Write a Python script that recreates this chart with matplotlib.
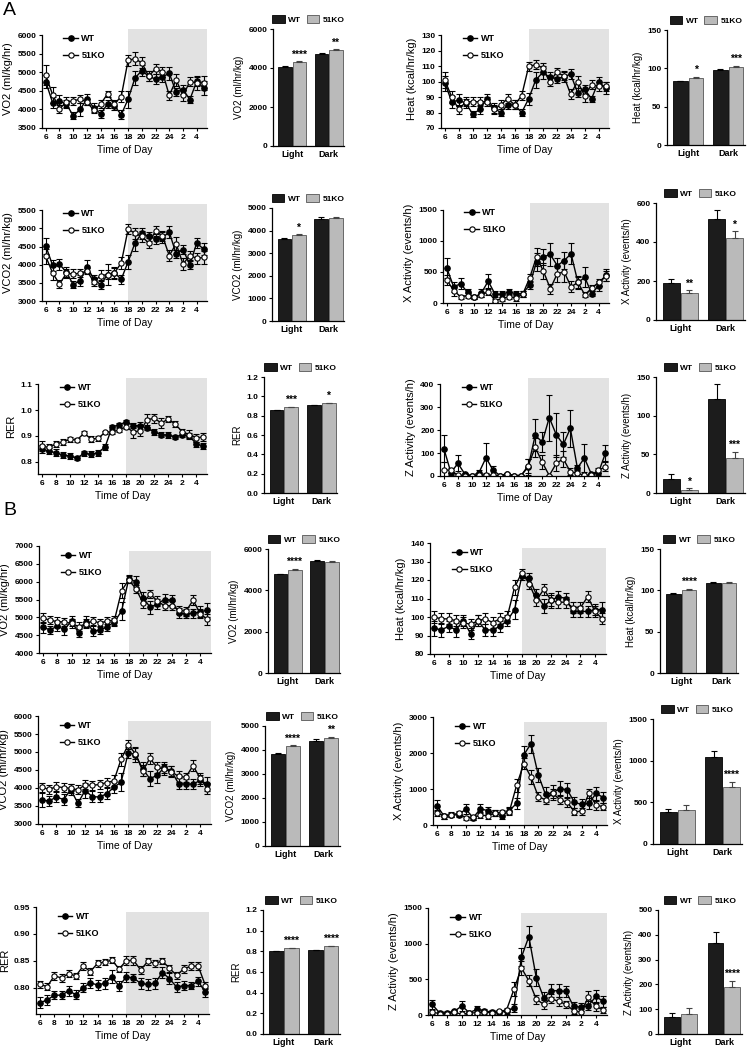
import numpy as np
import matplotlib.pyplot as plt

plt.rcParams['font.family'] = ['Liberation Sans', 'DejaVu Sans']
plt.rcParams['font.weight'] = 'bold'

hours = list(range(6, 30))
hour_ticks = [6, 8, 10, 12, 14, 16, 18, 20, 22, 24, 26, 28]
hour_labels = ['6', '8', '10', '12', '14', '16', '18', '20', '22', '24', '2', '4']
groups = ['Light', 'Dark']

# ---------------- panel A ----------------
a_vo2_wt = [4750, 4180, 4220, 4150, 3830, 4000, 4280, 4050, 3880, 4150, 4100, 3860,
            4280, 4850, 5050, 4900, 4820, 4880, 4980, 4470, 4540, 4270, 4760, 4580]
a_vo2_wt_err = [180, 150, 180, 120, 90, 170, 150, 120, 100, 120, 120, 120,
                230, 200, 150, 130, 130, 130, 170, 110, 130, 90, 130, 180]
a_vo2_ko = [4920, 4400, 4020, 4200, 4230, 4280, 4200, 3980, 4150, 4420, 4150, 4350,
            5330, 5370, 5260, 4900, 5100, 5020, 4380, 4800, 4380, 4750, 4720, 4720]
a_vo2_ko_err = [270, 220, 110, 130, 100, 110, 80, 80, 100, 90, 120, 160,
                150, 180, 150, 130, 140, 140, 110, 160, 150, 120, 180, 190]

a_heat_wt = [99, 87, 88, 86, 79, 82, 89, 83, 80, 85, 85, 80,
             89, 101, 106, 103, 102, 103, 105, 93, 95, 89, 100, 96]
a_heat_wt_err = [5, 4, 4, 3, 2, 3, 3, 3, 2, 3, 3, 2, 4, 5, 4, 3, 3, 3, 3, 3, 3, 2, 3, 4]
a_heat_ko = [101, 90, 82, 87, 87, 87, 87, 82, 85, 89, 85, 91,
             110, 111, 109, 100, 106, 104, 92, 100, 91, 98, 97, 97]
a_heat_ko_err = [5, 4, 3, 3, 3, 3, 3, 3, 3, 3, 3, 3, 3, 3, 3, 3, 3, 3, 3, 4, 4, 3, 3, 3]

a_vco2_wt = [4520, 3980, 4010, 3800, 3450, 3560, 3950, 3600, 3450, 3730, 3780, 3600,
             4080, 4600, 4870, 4780, 4720, 4750, 4900, 4300, 4420, 4000, 4600, 4430]
a_vco2_wt_err = [220, 150, 160, 140, 100, 160, 190, 120, 120, 120, 150, 130,
                 200, 220, 150, 130, 140, 150, 160, 120, 120, 120, 150, 160]
a_vco2_ko = [4230, 3770, 3470, 3760, 3750, 3760, 3830, 3530, 3700, 3730, 3770, 4050,
             4980, 4870, 4780, 4600, 4930, 4800, 4250, 4580, 4020, 4250, 4180, 4200]
a_vco2_ko_err = [200, 200, 120, 130, 120, 110, 90, 110, 150, 280, 150, 160,
                 130, 150, 140, 140, 150, 140, 150, 180, 170, 140, 150, 180]

a_x_wt = [560, 260, 310, 170, 90, 160, 350, 140, 140, 180, 150, 150,
          290, 660, 740, 780, 600, 680, 790, 330, 410, 150, 280, 450]
a_x_wt_err = [160, 80, 90, 60, 30, 60, 110, 50, 50, 50, 50, 50,
              70, 150, 130, 180, 130, 140, 170, 90, 160, 40, 80, 90]
a_x_ko = [370, 200, 100, 120, 100, 130, 180, 40, 70, 100, 80, 140,
          400, 740, 510, 230, 470, 500, 260, 330, 130, 240, 330, 430]
a_x_ko_err = [80, 80, 30, 40, 30, 40, 50, 30, 30, 40, 40, 50,
              60, 150, 130, 80, 130, 170, 90, 110, 40, 50, 60, 80]

a_rer_wt = [0.850, 0.840, 0.835, 0.825, 0.822, 0.813, 0.833, 0.828, 0.835, 0.857, 0.935, 0.942,
            0.955, 0.940, 0.940, 0.930, 0.915, 0.905, 0.903, 0.895, 0.905, 0.900, 0.867, 0.862]
a_rer_wt_err = [0.015, 0.012, 0.015, 0.012, 0.010, 0.007, 0.010, 0.012, 0.012, 0.012, 0.008, 0.007,
                0.006, 0.010, 0.012, 0.006, 0.010, 0.010, 0.010, 0.008, 0.010, 0.010, 0.010, 0.012]
a_rer_ko = [0.860, 0.855, 0.868, 0.877, 0.886, 0.884, 0.910, 0.888, 0.890, 0.914, 0.915, 0.923,
            0.935, 0.915, 0.920, 0.963, 0.968, 0.950, 0.965, 0.945, 0.915, 0.905, 0.893, 0.895]
a_rer_ko_err = [0.020, 0.015, 0.012, 0.012, 0.008, 0.006, 0.008, 0.010, 0.010, 0.006, 0.008, 0.008,
                0.010, 0.025, 0.020, 0.020, 0.018, 0.020, 0.012, 0.012, 0.012, 0.018, 0.015, 0.015]

a_z_wt = [120, 15, 55, 8, 2, 15, 80, 25, 2, 8, 2, 2,
          40, 178, 148, 255, 180, 138, 208, 35, 78, 8, 15, 100]
a_z_wt_err = [60, 10, 35, 5, 2, 10, 65, 20, 2, 5, 2, 2,
              35, 70, 45, 100, 95, 55, 80, 15, 60, 5, 10, 35]
a_z_ko = [27, 25, 3, 2, 2, 3, 5, 3, 2, 10, 2, 2,
          45, 125, 60, 2, 55, 75, 18, 12, 3, 5, 25, 40]
a_z_ko_err = [35, 10, 5, 2, 2, 3, 5, 3, 2, 3, 2, 2,
              30, 40, 30, 2, 35, 35, 15, 15, 3, 5, 10, 20]

# bar summaries (Light, Dark)
a_vo2_bar_wt, a_vo2_bar_wt_err = [4050, 4720], [40, 40]
a_vo2_bar_ko, a_vo2_bar_ko_err = [4320, 4920], [30, 40]
a_vo2_stars = ['****', '**']
a_heat_bar_wt, a_heat_bar_wt_err = [83, 98], [1, 1]
a_heat_bar_ko, a_heat_bar_ko_err = [88, 102], [1, 1]
a_heat_stars = ['*', '***']
a_vco2_bar_wt, a_vco2_bar_wt_err = [3650, 4530], [40, 50]
a_vco2_bar_ko, a_vco2_bar_ko_err = [3800, 4550], [40, 70]
a_vco2_stars = ['*', '']
a_x_bar_wt, a_x_bar_wt_err = [190, 520], [20, 45]
a_x_bar_ko, a_x_bar_ko_err = [140, 420], [12, 35]
a_x_stars = ['**', '*']
a_rer_bar_wt, a_rer_bar_wt_err = [0.855, 0.910], [0.005, 0.005]
a_rer_bar_ko, a_rer_bar_ko_err = [0.885, 0.928], [0.004, 0.004]
a_rer_stars = ['***', '*']
a_z_bar_wt, a_z_bar_wt_err = [18, 121], [7, 20]
a_z_bar_ko, a_z_bar_ko_err = [4, 45], [2, 8]
a_z_stars = ['*', '***']

# ---------------- panel B ----------------
b_vo2_wt = [4720, 4650, 4750, 4660, 4900, 4550, 4880, 4620, 4640, 4740, 4870, 5180,
            6080, 6000, 5550, 5280, 5380, 5500, 5480, 5120, 5100, 5110, 5160, 5200]
b_vo2_wt_err = [150, 120, 130, 150, 130, 110, 160, 130, 120, 130, 120, 250,
                100, 150, 150, 180, 140, 150, 150, 150, 130, 130, 160, 200]
b_vo2_ko = [4980, 4920, 4880, 4870, 4830, 4740, 4820, 4900, 4840, 4900, 4920, 5750,
            6050, 5800, 5400, 5650, 5460, 5320, 5330, 5200, 5170, 5480, 5100, 4940]
b_vo2_ko_err = [130, 120, 120, 110, 120, 130, 120, 110, 120, 100, 130, 200,
                100, 120, 130, 120, 130, 120, 130, 120, 120, 140, 130, 150]

b_heat_wt = [94, 93, 95, 93, 98, 91, 98, 93, 93, 95, 98, 104,
             122, 121, 112, 106, 109, 111, 110, 103, 103, 103, 104, 104]
b_heat_wt_err = [4, 4, 3, 4, 3, 3, 3, 3, 3, 3, 3, 5, 2, 3, 3, 4, 4, 3, 3, 3, 3, 3, 3, 4]
b_heat_ko = [100, 99, 99, 98, 97, 96, 98, 99, 97, 99, 100, 116,
             124, 118, 109, 115, 109, 108, 108, 105, 105, 111, 103, 99]
b_heat_ko_err = [3, 3, 3, 3, 3, 3, 3, 3, 3, 3, 3, 4, 2, 3, 3, 3, 3, 3, 3, 3, 3, 3, 3, 3]

b_vco2_wt = [3660, 3640, 3750, 3680, 3950, 3580, 3930, 3760, 3750, 3840, 4020, 4160,
             4980, 4930, 4530, 4260, 4350, 4570, 4470, 4120, 4110, 4110, 4210, 4110]
b_vco2_wt_err = [200, 150, 150, 150, 150, 120, 200, 150, 150, 150, 150, 250,
                 150, 200, 200, 200, 200, 150, 150, 150, 150, 150, 150, 200]
b_vco2_ko = [4020, 3960, 4040, 4010, 3990, 3950, 4090, 4070, 4100, 4150, 4200, 4800,
             5200, 4950, 4480, 4820, 4580, 4520, 4450, 4320, 4300, 4620, 4270, 3980]
b_vco2_ko_err = [120, 120, 120, 120, 120, 120, 120, 120, 120, 120, 150, 180,
                 120, 150, 150, 150, 150, 150, 150, 150, 130, 150, 150, 150]

b_x_wt = [540, 240, 270, 290, 440, 200, 450, 400, 330, 250, 400, 600,
          1950, 2260, 1390, 850, 900, 1010, 980, 630, 570, 600, 880, 760]
b_x_wt_err = [150, 60, 60, 80, 130, 60, 120, 100, 80, 80, 100, 150,
              250, 250, 200, 200, 200, 200, 200, 150, 150, 150, 180, 160]
b_x_ko = [340, 240, 290, 320, 200, 210, 270, 260, 330, 350, 370, 1100,
          1700, 1330, 790, 700, 880, 700, 630, 370, 380, 880, 550, 510]
b_x_ko_err = [80, 60, 60, 80, 60, 60, 80, 80, 80, 70, 100, 180,
              150, 200, 130, 130, 130, 120, 120, 90, 90, 130, 120, 100]

b_rer_wt = [0.772, 0.777, 0.786, 0.786, 0.794, 0.787, 0.800, 0.809, 0.805, 0.808, 0.820, 0.803,
            0.820, 0.818, 0.808, 0.806, 0.808, 0.828, 0.817, 0.801, 0.804, 0.804, 0.812, 0.791]
b_rer_wt_err = [0.010, 0.009, 0.007, 0.008, 0.009, 0.008, 0.008, 0.009, 0.010, 0.010, 0.012, 0.010,
                0.010, 0.008, 0.010, 0.010, 0.010, 0.010, 0.010, 0.009, 0.008, 0.007, 0.008, 0.008]
b_rer_ko = [0.806, 0.802, 0.822, 0.818, 0.826, 0.822, 0.840, 0.830, 0.845, 0.848, 0.851, 0.835,
            0.850, 0.851, 0.833, 0.849, 0.845, 0.850, 0.836, 0.823, 0.835, 0.840, 0.840, 0.804]
b_rer_ko_err = [0.007, 0.006, 0.008, 0.007, 0.007, 0.006, 0.008, 0.007, 0.007, 0.006, 0.006, 0.005,
                0.008, 0.008, 0.007, 0.006, 0.006, 0.006, 0.007, 0.006, 0.007, 0.007, 0.007, 0.007]

b_z_wt = [150, 30, 30, 50, 130, 30, 80, 60, 40, 40, 50, 100,
          810, 1100, 520, 240, 340, 340, 330, 120, 110, 130, 260, 190]
b_z_wt_err = [60, 20, 20, 20, 70, 20, 40, 30, 30, 20, 30, 60,
              130, 150, 120, 80, 90, 90, 80, 60, 60, 60, 90, 80]
b_z_ko = [40, 20, 20, 40, 10, 30, 30, 40, 30, 50, 70, 360,
          660, 480, 220, 150, 230, 190, 150, 60, 40, 250, 120, 70]
b_z_ko_err = [30, 20, 20, 20, 20, 20, 20, 20, 20, 20, 30, 100,
              100, 80, 60, 60, 60, 60, 50, 40, 40, 90, 60, 40]

b_vo2_bar_wt, b_vo2_bar_wt_err = [4770, 5420], [40, 60]
b_vo2_bar_ko, b_vo2_bar_ko_err = [4990, 5380], [40, 40]
b_vo2_stars = ['****', '']
b_heat_bar_wt, b_heat_bar_wt_err = [96, 109], [1, 1.5]
b_heat_bar_ko, b_heat_bar_ko_err = [101, 109], [1, 1]
b_heat_stars = ['****', '']
b_vco2_bar_wt, b_vco2_bar_wt_err = [3830, 4390], [40, 50]
b_vco2_bar_ko, b_vco2_bar_ko_err = [4150, 4510], [40, 50]
b_vco2_stars = ['****', '**']
b_x_bar_wt, b_x_bar_wt_err = [380, 1040], [35, 80]
b_x_bar_ko, b_x_bar_ko_err = [410, 690], [55, 60]
b_x_stars = ['', '****']
b_rer_bar_wt, b_rer_bar_wt_err = [0.800, 0.810], [0.003, 0.003]
b_rer_bar_ko, b_rer_bar_ko_err = [0.830, 0.850], [0.004, 0.004]
b_rer_stars = ['****', '****']
b_z_bar_wt, b_z_bar_wt_err = [70, 365], [15, 45]
b_z_bar_ko, b_z_bar_ko_err = [80, 190], [25, 25]
b_z_stars = ['', '****']

W, H = 749, 1049
fig = plt.figure(figsize=(W / 100, H / 100), dpi=100)
SHADE = '#e2e2e2'


def px(x0, y0, x1, y1):
    return fig.add_axes([x0 / W, 1 - y1 / H, (x1 - x0) / W, (y1 - y0) / H])


def style(ax):
    ax.spines['top'].set_visible(False)
    ax.spines['right'].set_visible(False)
    for s in ('left', 'bottom'):
        ax.spines[s].set_linewidth(0.9)
    ax.tick_params(direction='out', length=2.5, width=0.8, labelsize=6, pad=1.5)


def line_panel(box, wt, wt_err, ko, ko_err, ylabel, yticks, ybot, fmt, over):
    ax = px(*box)
    style(ax)
    top = yticks[-1]
    if over:
        ax.set_ylim(ybot, top + 0.07 * (top - ybot))
        ax.spines['left'].set_bounds(ybot, top)
        ax.axvspan(18, 29.5, color=SHADE, lw=0, zorder=0)
    else:
        ax.set_ylim(ybot, top)
        ax.axvspan(18, 29.5, ymax=0.955, color=SHADE, lw=0, zorder=0)
    c1 = ax.errorbar(hours, wt, yerr=wt_err, fmt='-o', color='k', ms=3.8, lw=1,
                     mfc='k', mec='k', capsize=2.5, elinewidth=0.8, capthick=0.8)
    c2 = ax.errorbar(hours, ko, yerr=ko_err, fmt='-o', color='k', ms=3.8, lw=1,
                     mfc='white', mec='k', mew=0.8, capsize=2.5, elinewidth=0.8, capthick=0.8)
    ax.set_xlim(5.45, 29.5)
    ax.set_xticks(hour_ticks, hour_labels)
    ax.set_yticks(yticks, [fmt.format(v) for v in yticks])
    ax.set_ylabel(ylabel, fontsize=8, labelpad=3)
    ax.set_xlabel('Time of Day', fontsize=7.5, fontweight='normal', labelpad=3)
    ax.legend([c1.lines[0], c2.lines[0]], ['WT', '51KO'], loc='upper left',
              bbox_to_anchor=(0.08, 1.03), frameon=False, fontsize=6.5,
              handlelength=1.6, handletextpad=0.4, labelspacing=0.9)
    return ax


def bar_panel(box, wt, wt_err, ko, ko_err, ylabel, yticks, stars, fmt):
    ax = px(*box)
    style(ax)
    x = np.arange(len(groups))
    w = 0.37
    ax.bar(x - w / 2 - 0.01, wt, w, color='#1c1c1c', edgecolor='k', lw=0.6, label='WT')
    ax.bar(x + w / 2 + 0.01, ko, w, color='#bababa', edgecolor='#555555', lw=0.6, label='51KO')
    ax.errorbar(x - w / 2 - 0.01, wt, yerr=[np.zeros(2), wt_err], fmt='none', ecolor='k',
                capsize=2, elinewidth=0.8, capthick=0.8)
    ax.errorbar(x + w / 2 + 0.01, ko, yerr=[np.zeros(2), ko_err], fmt='none', ecolor='#444444',
                capsize=2, elinewidth=0.8, capthick=0.8)
    for xi, v, e, s in zip(x + w / 2, ko, ko_err, stars):
        if s:
            ax.text(xi, v + e + 0.015 * yticks[-1], s, ha='center', va='bottom', fontsize=7.5)
    ax.set_xlim(-0.53, 1.42)
    ax.set_ylim(0, yticks[-1])
    ax.set_yticks(yticks, [fmt.format(v) for v in yticks])
    ax.set_xticks(x, groups)
    ax.tick_params(axis='x', length=0, labelsize=6.5, pad=3)
    ax.set_ylabel(ylabel, fontsize=7, labelpad=3)
    ax.legend(loc='lower center', bbox_to_anchor=(0.5, 1.0), ncol=2, frameon=False,
              fontsize=6, handlelength=1.5, handleheight=1.0, handletextpad=0.4,
              columnspacing=0.7, borderaxespad=0.2)
    return ax


# ---- A ----
line_panel((42, 29, 207, 128), a_vo2_wt, a_vo2_wt_err, a_vo2_ko, a_vo2_ko_err,
           'VO2 (ml/kg/hr)', [3500, 4000, 4500, 5000, 5500, 6000], 3500, '{:.0f}', True)
bar_panel((273, 29, 344, 146), a_vo2_bar_wt, a_vo2_bar_wt_err, a_vo2_bar_ko, a_vo2_bar_ko_err,
          'VO2 (ml/hr/kg)', [0, 2000, 4000, 6000], a_vo2_stars, '{:.0f}')
line_panel((441, 29, 609, 128), a_heat_wt, a_heat_wt_err, a_heat_ko, a_heat_ko_err,
           'Heat (kcal/hr/kg)', [70, 80, 90, 100, 110, 120, 130], 70, '{:.0f}', True)
bar_panel((667, 30, 745, 145), a_heat_bar_wt, a_heat_bar_wt_err, a_heat_bar_ko, a_heat_bar_ko_err,
          'Heat (kcal/hr/kg)', [0, 50, 100, 150], a_heat_stars, '{:.0f}')

line_panel((42, 204, 207, 301), a_vco2_wt, a_vco2_wt_err, a_vco2_ko, a_vco2_ko_err,
           'VCO2 (ml/hr/kg)', [3000, 3500, 4000, 4500, 5000, 5500], 3000, '{:.0f}', True)
bar_panel((272, 208, 344, 321), a_vco2_bar_wt, a_vco2_bar_wt_err, a_vco2_bar_ko, a_vco2_bar_ko_err,
          'VCO2 (ml/hr/kg)', [0, 1000, 2000, 3000, 4000, 5000], a_vco2_stars, '{:.0f}')
line_panel((443, 203, 609, 303), a_x_wt, a_x_wt_err, a_x_ko, a_x_ko_err,
           'X Activity (events/h)', [0, 500, 1000, 1500], 0, '{:.0f}', True)
bar_panel((656, 203, 745, 320), a_x_bar_wt, a_x_bar_wt_err, a_x_bar_ko, a_x_bar_ko_err,
          'X Activity (events/h)', [0, 200, 400, 600], a_x_stars, '{:.0f}')

line_panel((38, 378, 207, 474), a_rer_wt, a_rer_wt_err, a_rer_ko, a_rer_ko_err,
           'RER', [0.8, 0.9, 1.0, 1.1], 0.752, '{:.1f}', True)
bar_panel((264, 377, 337, 493), a_rer_bar_wt, a_rer_bar_wt_err, a_rer_bar_ko, a_rer_bar_ko_err,
          'RER', [0.0, 0.2, 0.4, 0.6, 0.8, 1.0, 1.2], a_rer_stars, '{:.1f}')
line_panel((440, 378, 609, 476), a_z_wt, a_z_wt_err, a_z_ko, a_z_ko_err,
           'Z Activity (events/h)', [0, 100, 200, 300, 400], 0, '{:.0f}', True)
bar_panel((656, 377, 745, 493), a_z_bar_wt, a_z_bar_wt_err, a_z_bar_ko, a_z_bar_ko_err,
          'Z Activity (events/h)', [0, 50, 100, 150], a_z_stars, '{:.0f}')

# ---- B ----
line_panel((39, 546, 211, 653), b_vo2_wt, b_vo2_wt_err, b_vo2_ko, b_vo2_ko_err,
           'VO2 (ml/kg/hr)', [4000, 4500, 5000, 5500, 6000, 6500, 7000], 4000, '{:.0f}', False)
bar_panel((268, 549, 340, 673), b_vo2_bar_wt, b_vo2_bar_wt_err, b_vo2_bar_ko, b_vo2_bar_ko_err,
          'VO2 (ml/hr/kg)', [0, 2000, 4000, 6000], b_vo2_stars, '{:.0f}')
line_panel((430, 543, 606, 654), b_heat_wt, b_heat_wt_err, b_heat_ko, b_heat_ko_err,
           'Heat (kcal/hr/kg)', [80, 90, 100, 110, 120, 130, 140], 80, '{:.0f}', False)
bar_panel((660, 549, 738, 673), b_heat_bar_wt, b_heat_bar_wt_err, b_heat_bar_ko, b_heat_bar_ko_err,
          'Heat (kcal/hr/kg)', [0, 50, 100, 150], b_heat_stars, '{:.0f}')

line_panel((38, 716, 211, 824), b_vco2_wt, b_vco2_wt_err, b_vco2_ko, b_vco2_ko_err,
           'VCO2 (ml/hr/kg)', [3000, 3500, 4000, 4500, 5000, 5500, 6000], 3000, '{:.0f}', False)
bar_panel((265, 726, 340, 846), b_vco2_bar_wt, b_vco2_bar_wt_err, b_vco2_bar_ko, b_vco2_bar_ko_err,
          'VCO2 (ml/hr/kg)', [0, 1000, 2000, 3000, 4000, 5000], b_vco2_stars, '{:.0f}')
line_panel((433, 717, 607, 825), b_x_wt, b_x_wt_err, b_x_ko, b_x_ko_err,
           'X Activity (events/h)', [0, 1000, 2000, 3000], 0, '{:.0f}', False)
bar_panel((653, 719, 742, 844), b_x_bar_wt, b_x_bar_wt_err, b_x_bar_ko, b_x_bar_ko_err,
          'X Activity (events/h)', [0, 500, 1000, 1500], b_x_stars, '{:.0f}')

line_panel((36, 907, 209, 1014), b_rer_wt, b_rer_wt_err, b_rer_ko, b_rer_ko_err,
           'RER', [0.80, 0.85, 0.90, 0.95], 0.751, '{:.2f}', False)
bar_panel((263, 910, 340, 1034), b_rer_bar_wt, b_rer_bar_wt_err, b_rer_bar_ko, b_rer_bar_ko_err,
          'RER', [0.0, 0.2, 0.4, 0.6, 0.8, 1.0, 1.2], b_rer_stars, '{:.1f}')
line_panel((428, 908, 607, 1015), b_z_wt, b_z_wt_err, b_z_ko, b_z_ko_err,
           'Z Activity (events/h)', [0, 500, 1000, 1500], 0, '{:.0f}', False)
bar_panel((658, 910, 742, 1034), b_z_bar_wt, b_z_bar_wt_err, b_z_bar_ko, b_z_bar_ko_err,
          'Z Activity (events/h)', [0, 100, 200, 300, 400, 500], b_z_stars, '{:.0f}')

fig.text(3 / W, 1 - 2 / H, 'A', fontsize=14, fontweight='normal', va='top', ha='left')
fig.text(3 / W, 1 - 502 / H, 'B', fontsize=14, fontweight='normal', va='top', ha='left')

fig.savefig('out.png', dpi=100)
